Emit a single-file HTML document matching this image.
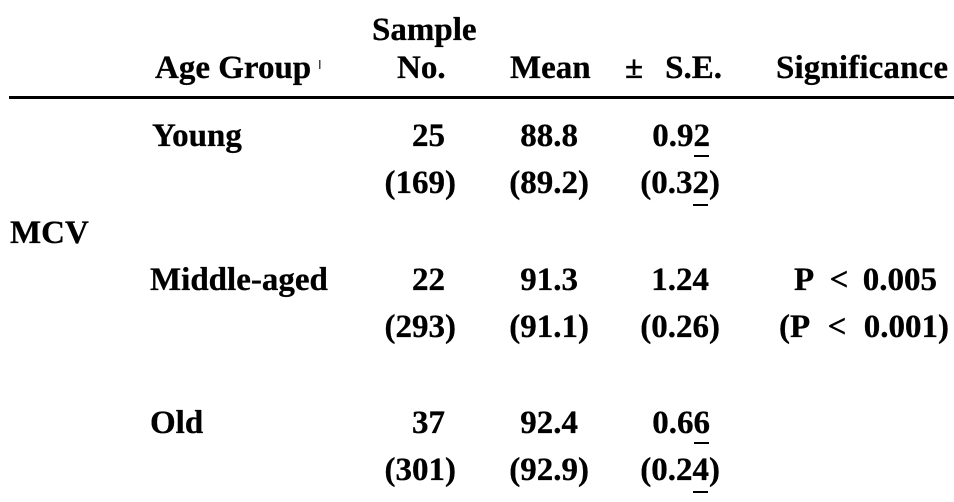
<!DOCTYPE html>
<html>
<head>
<meta charset="utf-8">
<style>
  html, body { margin: 0; padding: 0; background: #fff; }
  body { width: 954px; height: 502px; overflow: hidden; }
  svg { display: block; }
  text { font-family: "Liberation Serif", "Times New Roman", serif; font-weight: bold; font-size: 33px; fill: #000; stroke: #000; stroke-width: 0.3px; }
</style>
</head>
<body>
<svg width="954" height="502" viewBox="0 0 954 502" xmlns="http://www.w3.org/2000/svg">
  <!-- Header -->
  <text x="372" y="40">Sample</text>
  <text x="155" y="78">Age Group</text>
  <rect x="319" y="60" width="1.5" height="9" fill="#444"/>
  <text x="397" y="78">No.</text>
  <text x="510" y="78">Mean</text>
  <text x="625" y="78">±</text>
  <text x="722" y="78" text-anchor="end">S.E.</text>
  <text x="776" y="78" textLength="172" lengthAdjust="spacing">Significance</text>

  <!-- Rule -->
  <rect x="9" y="96" width="945" height="3" fill="#000"/>

  <!-- MCV label -->
  <text x="10" y="243">MCV</text>

  <!-- Young -->
  <text x="152" y="146">Young</text>
  <text x="445" y="146" text-anchor="end">25</text>
  <text x="578" y="146" text-anchor="end">88.8</text>
  <text x="710" y="146" text-anchor="end">0.92</text>
  <rect x="694" y="155" width="15" height="2" fill="#000"/>

  <text x="456" y="193" text-anchor="end">(169)</text>
  <text x="589" y="193" text-anchor="end">(89.2)</text>
  <text x="720" y="193" text-anchor="end">(0.32)</text>
  <rect x="693" y="204" width="15" height="2" fill="#000"/>

  <!-- Middle-aged -->
  <text x="150" y="290">Middle-aged</text>
  <text x="445" y="290" text-anchor="end">22</text>
  <text x="578" y="290" text-anchor="end">91.3</text>
  <text x="709" y="290" text-anchor="end">1.24</text>
  <text x="794" y="290">P</text>
  <text x="839" y="290" text-anchor="middle">&lt;</text>
  <text x="937" y="290" text-anchor="end">0.005</text>

  <text x="456" y="337" text-anchor="end">(293)</text>
  <text x="589" y="337" text-anchor="end">(91.1)</text>
  <text x="720" y="337" text-anchor="end">(0.26)</text>
  <text x="779" y="337">(P</text>
  <text x="837" y="337" text-anchor="middle">&lt;</text>
  <text x="949" y="337" text-anchor="end">0.001)</text>

  <!-- Old -->
  <text x="150" y="433">Old</text>
  <text x="445" y="433" text-anchor="end">37</text>
  <text x="578" y="433" text-anchor="end">92.4</text>
  <text x="710" y="433" text-anchor="end">0.66</text>
  <rect x="694" y="442" width="15" height="2" fill="#000"/>

  <text x="456" y="480" text-anchor="end">(301)</text>
  <text x="589" y="480" text-anchor="end">(92.9)</text>
  <text x="720" y="480" text-anchor="end">(0.24)</text>
  <rect x="693" y="491" width="15" height="2" fill="#000"/>
</svg>
</body>
</html>
